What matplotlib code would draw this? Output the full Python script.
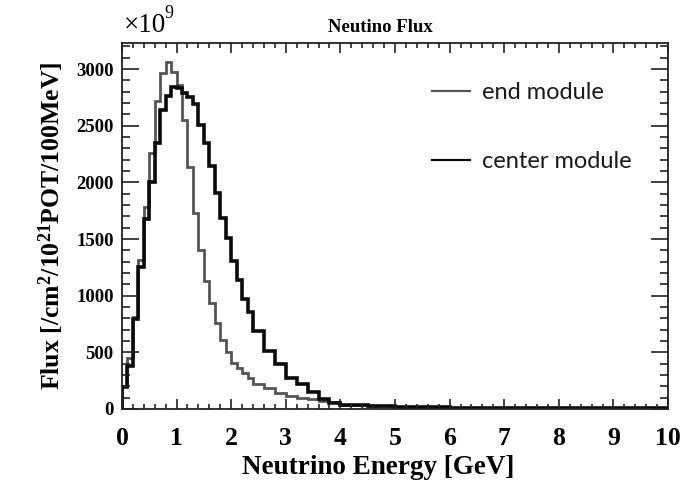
import matplotlib
matplotlib.use("Agg")
import matplotlib.pyplot as plt
from matplotlib.ticker import MultipleLocator

# Flux histograms, units of 1e9 /cm2/1e21POT/100MeV
bin_edges = [0.0, 0.1, 0.2, 0.3, 0.4, 0.5, 0.6, 0.7, 0.8, 0.9, 1.0,
             1.1, 1.2, 1.3, 1.4, 1.5, 1.6, 1.7, 1.8, 1.9, 2.0,
             2.1, 2.2, 2.3, 2.4, 2.6, 2.8, 3.0, 3.2, 3.4, 3.6,
             3.8, 4.0, 4.5, 5.0, 6.0, 7.0, 10.0]

end_module = [200, 450, 810, 1316, 1782, 2255, 2720, 2962, 3065, 2970,
              2855, 2549, 2135, 1730, 1400, 1133, 935, 760, 612, 502,
              410, 366, 320, 270, 224, 189, 144, 115, 100, 88,
              74, 60, 38, 26, 17, 12, 6]

center_module = [190, 380, 790, 1250, 1680, 2000, 2343, 2635, 2765, 2844,
                 2830, 2790, 2755, 2690, 2510, 2350, 2145, 1910, 1688, 1505,
                 1305, 1138, 975, 855, 690, 516, 398, 277, 218, 153,
                 86, 56, 36, 24, 18, 12, 7]

labels = ['end module', 'center module']

plt.rcParams['mathtext.fontset'] = 'custom'
plt.rcParams['mathtext.rm'] = 'Liberation Serif:bold'
plt.rcParams['mathtext.it'] = 'Liberation Serif:bold'
plt.rcParams['mathtext.bf'] = 'Liberation Serif:bold'

serif = 'Liberation Serif'

fig = plt.figure(figsize=(6.86, 4.82), dpi=100)
ax = fig.add_axes([0.1778, 0.1515, 0.7960, 0.7593])

ax.stairs(end_module, bin_edges, color='#555555', linewidth=2.0, label=labels[0])
ax.stairs(center_module, bin_edges, color='#0a0a0a', linewidth=2.6, label=labels[1])

ax.set_xlim(0, 10)
ax.set_ylim(0, 3230)

ax.xaxis.set_major_locator(MultipleLocator(1))
ax.xaxis.set_minor_locator(MultipleLocator(0.2))
ax.yaxis.set_major_locator(MultipleLocator(500))
ax.yaxis.set_minor_locator(MultipleLocator(100))

ax.tick_params(axis='both', which='both', direction='in', top=True, right=True,
               width=1.2, color='#222222')
ax.tick_params(axis='x', which='major', length=7.5, pad=13)
ax.tick_params(axis='x', which='minor', length=3.8)
ax.tick_params(axis='y', which='major', length=12, pad=6)
ax.tick_params(axis='y', which='minor', length=6)

for lab in ax.get_xticklabels():
    lab.set_fontfamily(serif)
    lab.set_fontweight('bold')
    lab.set_fontsize(18.5)
for lab in ax.get_yticklabels():
    lab.set_fontfamily(serif)
    lab.set_fontweight('bold')
    lab.set_fontsize(13.5)

for spine in ax.spines.values():
    spine.set_linewidth(1.3)
    spine.set_color('#222222')

ax.set_xlabel('Neutrino Energy [GeV]', fontfamily=serif, fontweight='bold',
              fontsize=19.5)
ax.xaxis.set_label_coords(0.47, -0.127)
ax.set_ylabel('Flux [/cm$^{2}$/10$^{21}$POT/100MeV]', fontfamily=serif,
              fontweight='bold', fontsize=18.5, labelpad=7)

fig.text(0.555, 0.942, 'Neutino Flux', fontfamily=serif, fontweight='bold',
         fontsize=13.5, ha='center', va='center')

# axis multiplier drawn above the y axis
fig.text(0.180, 0.948, '\u00d710', fontfamily=serif, fontsize=19.5,
         ha='left', va='center')
fig.text(0.240, 0.972, '9', fontfamily=serif, fontsize=13,
         ha='left', va='center')

leg = ax.legend(loc='upper left', bbox_to_anchor=(0.568, 0.894), frameon=False,
                prop={'family': 'Lato', 'size': 17}, handlelength=1.6,
                handletextpad=0.5, labelspacing=2.05, borderpad=0,
                borderaxespad=0)
for txt in leg.get_texts():
    txt.set_color('#1a1a1a')
for line in leg.get_lines():
    line.set_linewidth(1.6)

fig.savefig('out.png', dpi=100)
